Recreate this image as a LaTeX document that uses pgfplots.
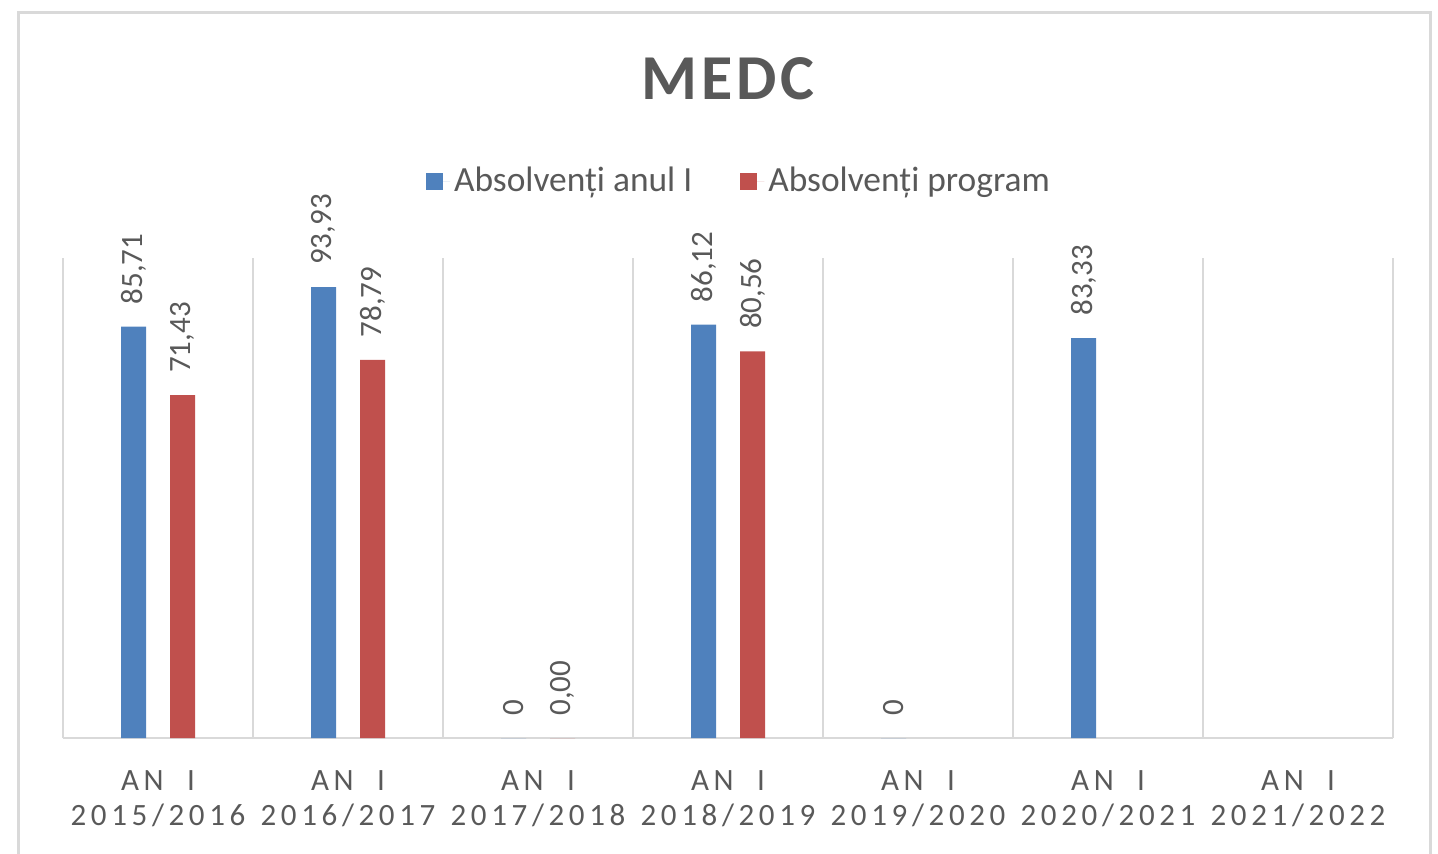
\documentclass[border=0pt]{standalone}
\usepackage{fontspec}
\setmainfont{Carlito}
\newfontfamily\spacedfont[LetterSpace=15]{Carlito}
\newfontfamily\titlefont[LetterSpace=6]{Carlito}
\usepackage{pgfplots}
\pgfplotsset{compat=1.18}
\definecolor{barblue}{HTML}{4F81BD}
\definecolor{barred}{HTML}{C0504D}
\definecolor{txtgrey}{HTML}{595959}
\definecolor{gridgrey}{HTML}{D9D9D9}
\begin{document}
\begin{tikzpicture}
\useasboundingbox (0pt,0pt) rectangle (719pt,-426.5pt);
\draw[gridgrey, line width=1.5pt] (9pt,-6pt) rectangle (715pt,-450pt);
\begin{axis}[
  at={(31.5pt,-369pt)}, anchor=south west,
  scale only axis, width=665pt, height=240pt,
  xmin=-0.5, xmax=6.5, ymin=0, ymax=100,
  axis x line*=bottom, axis y line=none,
  x axis line style={draw=gridgrey, line width=1.2pt, -},
  xtick={0,...,6},
  xticklabels={{AN\ \ I\\2015/2016},{AN\ \ I\\2016/2017},{AN\ \ I\\2017/2018},{AN\ \ I\\2018/2019},{AN\ \ I\\2019/2020},{AN\ \ I\\2020/2021},{AN\ \ I\\2021/2022}},
  xticklabel style={align=center, inner sep=0pt, text=txtgrey, font=\spacedfont\fontsize{15.5}{17.5}\selectfont},
  xticklabel shift=16pt,
  ytick=\empty,
  major tick length=0pt, minor tick length=0pt,
  minor xtick={-0.5,0.5,...,6.5},
  xminorgrids, minor grid style={draw=gridgrey, line width=1.2pt},
  ybar=12pt, bar width=12.5pt,
  clip=false,
  title={MEDC},
  title style={at={(axis description cs:0.5,1.306)}, anchor=base, text=txtgrey, font=\titlefont\bfseries\fontsize{32}{36}\selectfont},
  legend columns=2,
  legend style={at={(axis description cs:0.509,1.16)}, anchor=center, draw=none, fill=none,
    font=\fontsize{17.7}{19}\selectfont, text=txtgrey,
    /tikz/every even column/.append style={column sep=22pt}},
  legend image code/.code={\fill[#1] (0pt,-4.25pt) rectangle (8.5pt,4.25pt); \path (0pt,0pt) -- (12pt,0pt);},
  nodes near coords,
  point meta=explicit symbolic,
  nodes near coords style={rotate=90, anchor=west, inner xsep=11pt, inner ysep=0pt, text=txtgrey, font=\fontsize{15.5}{17}\selectfont},
]
\addplot[fill=barblue, draw=none] table[x=x, y=y, meta=label] {
x y label
0 85.71 85,71
1 93.93 93,93
2 0 0
3 86.12 86,12
4 0 0
5 83.33 83,33
};
\addplot[fill=barred, draw=none] table[x=x, y=y, meta=label] {
x y label
0 71.43 71,43
1 78.79 78,79
2 0 0,00
3 80.56 80,56
};
\legend{Absolvenți anul I, Absolvenți program}
\end{axis}
\end{tikzpicture}
\end{document}
